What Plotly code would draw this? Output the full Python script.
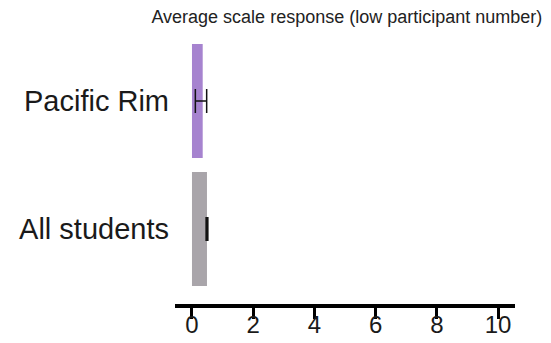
import plotly.graph_objects as go

groups = ["All students", "Pacific Rim"]
means = [0.49, 0.35]
err_plus = [0.02, 0.13]
err_minus = [0.02, 0.24]
bar_colors = ["#a9a5aa", "#a683cf"]
x_ticks = [0, 2, 4, 6, 8, 10]

fig = go.Figure()
for g, m, ep, em, c in zip(groups, means, err_plus, err_minus, bar_colors):
    fig.add_trace(
        go.Bar(
            x=[m],
            y=[g],
            orientation="h",
            marker=dict(color=c, line=dict(width=0)),
            error_x=dict(
                type="data",
                symmetric=False,
                array=[ep],
                arrayminus=[em],
                color="#111111",
                thickness=2 if g == "All students" else 1.5,
                width=12,
            ),
            showlegend=False,
        )
    )

# page body adds an 8px margin, so the figure is a bit smaller than the window
fig.update_layout(
    width=543,
    height=335,
    margin=dict(l=167, r=36, t=29, b=39),
    plot_bgcolor="white",
    paper_bgcolor="white",
    bargap=0.11,
    font=dict(family="Liberation Sans, Arial, sans-serif", color="#1a1a1a"),
    title=dict(
        text="Average scale response (low participant number)",
        font=dict(size=18, color="#222222"),
        x=0.624,
        xanchor="center",
        y=1 - 9 / 335,
        yanchor="middle",
    ),
)
fig.update_xaxes(
    range=[-0.555, 10.555],
    tickvals=x_ticks,
    automargin=False,
    showgrid=False,
    zeroline=False,
    showline=True,
    linecolor="black",
    linewidth=4,
    ticks="outside",
    ticklen=11,
    tickwidth=3,
    tickcolor="black",
    tickfont=dict(size=24, color="#1a1a1a"),
    ticklabelstandoff=-15,
)
fig.update_yaxes(
    categoryorder="array",
    categoryarray=groups,
    range=[-0.586, 1.5],
    automargin=False,
    showgrid=False,
    zeroline=False,
    showline=False,
    ticks="",
    tickfont=dict(size=29, color="#1a1a1a"),
    ticklabelstandoff=5,
)

fig.write_html("out.html")
